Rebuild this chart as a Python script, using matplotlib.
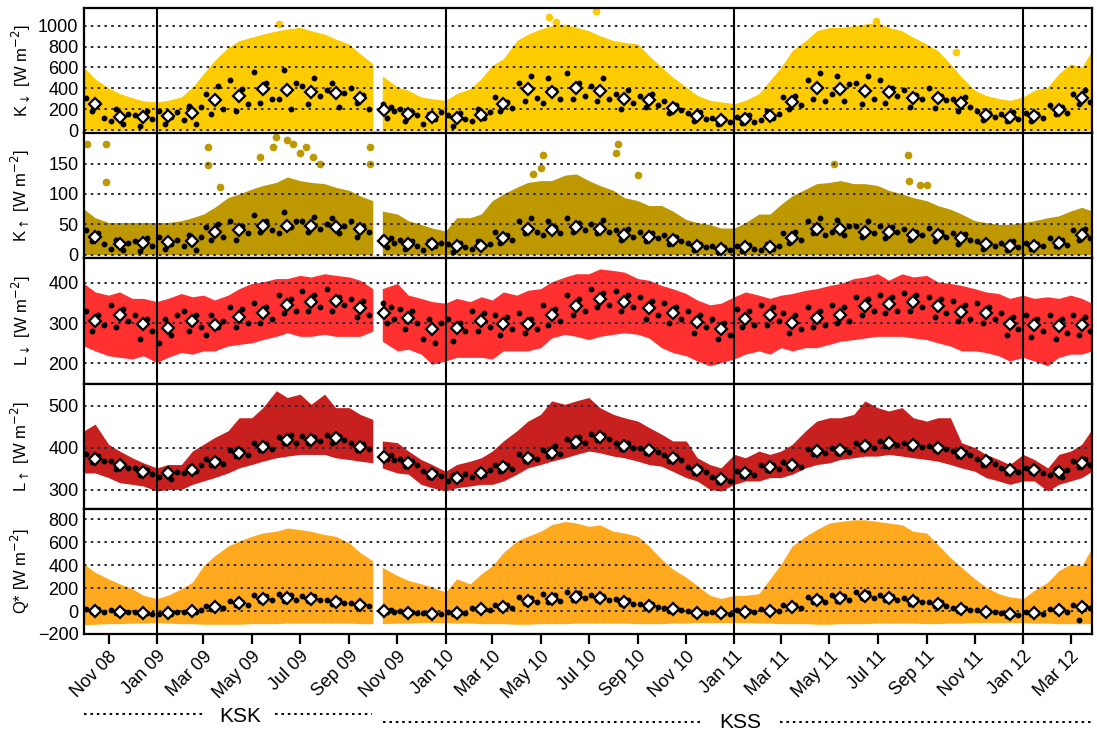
import numpy as np
import pandas as pd
import matplotlib
matplotlib.use('Agg')
import matplotlib.pyplot as plt
import matplotlib.dates as mdates
from matplotlib.lines import Line2D

plt.rcParams['font.family'] = ['Liberation Sans', 'DejaVu Sans']
plt.rcParams['mathtext.fontset'] = 'dejavusans'

# ---------------- time grids ----------------
KSK_START, KSK_END = '2008-10-01', '2009-10-01'
KSS_START, KSS_END = '2009-10-13', '2012-03-28'
KSK_GRID = list(pd.date_range(KSK_START, KSK_END, freq='SMS'))
KSS_GRID = [pd.Timestamp(KSS_START)] + list(pd.date_range('2009-11-01', '2012-03-15', freq='SMS')) + [pd.Timestamp(KSS_END)]
KSK_MONTHS = pd.date_range('2008-10-01', periods=12, freq='MS')
KSS_MONTHS = pd.date_range('2009-10-01', periods=30, freq='MS')
DOT_DAYS = [4, 11, 19, 26]
KSS_FIRST_DAYS = [14, 19, 24, 28]
YEAR_LINES = ['2009-01-01', '2010-01-01', '2011-01-01', '2012-01-01']

# ---------------- K down ----------------
KDN_UP_KSK = [600, 490, 405, 350, 310, 280, 270, 285, 318, 410, 540, 667, 790, 857, 890, 920, 950, 968, 985, 952, 920, 873, 825, 730, 635]
KDN_UP_KSS = [520, 413, 380, 318, 300,
              285, 350, 397, 492, 620, 683, 857, 920, 968, 1000, 1016, 985, 952, 905, 857, 841, 825, 714, 603, 508, 413, 333, 285, 270,
              254, 285, 349, 476, 603, 762, 857, 952, 984, 984, 1000, 1016, 1032, 984, 952, 889, 825, 762, 635, 508, 381, 333, 302, 285,
              318, 381, 413, 540, 635, 603, 762]
KDN_MEAN_KSK = [248, 124, 124, 133, 162, 286, 324, 390, 381, 362, 352, 308]
KDN_MEAN_KSS = [190, 152, 124, 117, 143, 248, 390, 362, 400, 375, 298, 286, 216, 133, 95,
                105, 133, 270, 403, 397, 375, 365, 311, 311, 257, 146, 130, 133, 190, 311]
KDN_DAY_KSK = [310, 180, 260, 120, 90, 200, 60, 150, 140, 40, 180, 110, 180, 60, 130, 170,
               100, 230, 60, 220, 350, 150, 420, 200, 480, 180, 390, 250, 560, 260, 450, 300,
               300, 580, 200, 450, 420, 250, 500, 330, 380, 450, 220, 360, 400, 260, 340, 200]
KDN_DAY_KSS = [250, 120, 220, 180, 200, 90, 170, 140, 60, 150, 110, 170,
               140, 40, 160, 110, 90, 200, 120, 170, 320, 180, 270, 210, 450, 280, 520, 310,
               260, 500, 380, 300, 550, 300, 450, 330, 420, 280, 500, 300, 350, 200, 380, 260,
               330, 220, 350, 240, 280, 160, 240, 190, 160, 90, 170, 110, 120, 60, 110, 80,
               130, 70, 140, 80, 100, 180, 120, 150, 320, 200, 330, 240, 480, 300, 550, 280,
               350, 520, 280, 440, 450, 250, 520, 300, 480, 260, 400, 330, 380, 220, 340, 300,
               400, 210, 330, 290, 300, 180, 320, 220, 180, 100, 160, 130, 150, 90, 170, 110,
               160, 90, 150, 120, 240, 150, 220, 160, 350, 250, 380, 270]
KDN_OUT_DATES = ['2009-06-05', '2010-05-12', '2010-05-20', '2010-07-10', '2011-06-29', '2011-10-08']
KDN_OUT_VALS = [1016, 1080, 1032, 1143, 1048, 746]

# ---------------- K up ----------------
KUP_UP_KSK = [75, 61, 53, 53, 53, 53, 53, 53, 56, 61, 67, 78, 94, 100, 108, 114, 119, 128, 122, 119, 117, 111, 106, 97, 89]
KUP_UP_KSS = [72, 67, 56, 50, 44,
              39, 61, 61, 67, 89, 100, 111, 119, 122, 122, 131, 133, 122, 114, 106, 94, 89, 81, 81, 72, 58, 53, 50, 44,
              44, 53, 67, 67, 83, 97, 108, 117, 119, 122, 117, 117, 114, 106, 100, 94, 89, 81, 75, 67, 56, 53, 50, 50,
              53, 56, 61, 64, 72, 78, 72]
KUP_MEAN_KSK = [30, 17, 19, 21, 23, 37, 40, 48, 48, 48, 46, 42]
KUP_MEAN_KSS = [23, 18, 17, 15, 15, 28, 42, 40, 45, 42, 32, 30, 25, 15, 10,
                12, 12, 28, 42, 42, 38, 37, 32, 32, 27, 17, 15, 15, 20, 32]
KUP_DAY_KSK = [40, 22, 35, 18, 10, 25, 8, 20, 22, 6, 28, 15, 30, 10, 18, 25,
               15, 32, 8, 30, 45, 25, 50, 30, 55, 25, 48, 35, 65, 38, 55, 40,
               35, 70, 45, 55, 55, 38, 62, 42, 50, 60, 35, 48, 55, 30, 48, 38]
KUP_DAY_KSS = [30, 12, 28, 20, 25, 10, 22, 15, 8, 22, 14, 20,
               18, 5, 20, 12, 10, 22, 14, 18, 38, 20, 33, 25, 55, 35, 60, 38,
               32, 55, 45, 35, 60, 38, 52, 40, 50, 35, 58, 38, 40, 25, 42, 30,
               38, 22, 36, 28, 32, 18, 30, 22, 20, 8, 18, 12, 14, 5, 12, 8,
               15, 6, 16, 9, 8, 18, 10, 14, 35, 20, 38, 25, 55, 35, 60, 32,
               38, 58, 32, 48, 48, 30, 55, 35, 48, 28, 45, 38, 42, 25, 38, 32,
               44, 22, 38, 30, 35, 18, 34, 24, 22, 10, 20, 14, 20, 8, 22, 12,
               20, 9, 18, 14, 28, 14, 25, 16, 40, 25, 42, 28]
KUP_OUT_DATES = ['2008-10-05', '2008-10-29', '2008-10-29', '2009-03-07', '2009-03-07', '2009-03-22',
                 '2009-05-11', '2009-05-28', '2009-06-01', '2009-06-14', '2009-06-22', '2009-07-01',
                 '2009-07-09', '2009-07-17', '2009-07-26', '2009-09-27', '2009-09-27',
                 '2010-04-22', '2010-05-02', '2010-05-04', '2010-08-04', '2010-08-07', '2010-09-01',
                 '2011-05-07', '2011-08-08', '2011-08-10', '2011-08-23', '2011-09-02']
KUP_OUT_VALS = [183, 183, 119, 178, 147, 111, 161, 178, 194, 189, 183, 167, 178, 161, 150, 178, 150,
                133, 142, 164, 168, 183, 131, 150, 164, 122, 114, 114]

# ---------------- L down ----------------
LDN_UP_KSK = [398, 377, 369, 377, 361, 361, 353, 361, 373, 365, 369, 357, 369, 385, 398, 402, 410, 410, 418, 414, 422, 418, 414, 406, 385]
LDN_LO_KSK = [243, 231, 219, 215, 211, 219, 202, 215, 227, 223, 231, 231, 243, 247, 251, 259, 267, 276, 267, 267, 272, 267, 267, 267, 280]
LDN_UP_KSS = [385, 398, 369, 361, 353,
              349, 361, 353, 365, 357, 377, 369, 381, 385, 402, 414, 422, 422, 434, 430, 426, 410, 406, 393, 385, 373, 357, 345, 349,
              365, 377, 369, 361, 369, 373, 381, 385, 393, 398, 410, 414, 422, 406, 422, 414, 418, 402, 398, 393, 385, 377, 373, 361,
              369, 361, 365, 361, 369, 361, 349]
LDN_LO_KSS = [255, 231, 235, 223, 198,
              206, 215, 215, 215, 211, 231, 231, 231, 239, 263, 272, 267, 259, 267, 272, 276, 272, 263, 239, 227, 219, 206, 194, 202,
              211, 223, 231, 223, 239, 231, 239, 239, 247, 255, 259, 263, 267, 267, 267, 263, 259, 251, 243, 231, 231, 227, 219, 206,
              215, 206, 194, 215, 223, 223, 231]
LDN_MEAN_KSK = [306, 319, 298, 288, 304, 294, 314, 324, 345, 353, 354, 337]
LDN_MEAN_KSS = [324, 312, 286, 288, 304, 298, 298, 319, 343, 359, 353, 337, 324, 302, 285,
                311, 320, 300, 312, 319, 342, 346, 353, 341, 328, 324, 298, 294, 292, 294]
LDN_DAY_KSK = [330, 280, 320, 295, 345, 290, 335, 305, 320, 260, 310, 280, 250, 310, 270, 320,
               330, 280, 320, 290, 270, 320, 290, 305, 340, 290, 335, 300, 350, 300, 340, 310,
               370, 325, 360, 330, 380, 330, 370, 340, 385, 330, 365, 345, 360, 315, 355, 320]
LDN_DAY_KSS = [350, 300, 340, 310, 335, 285, 330, 300, 260, 310, 250, 300,
               310, 255, 300, 280, 330, 280, 325, 290, 320, 270, 315, 285, 325, 275, 310, 285,
               345, 295, 335, 305, 370, 320, 360, 330, 385, 340, 375, 345, 380, 330, 370, 340,
               365, 310, 355, 320, 350, 300, 340, 310, 330, 275, 320, 290, 310, 260, 300, 270,
               335, 290, 330, 295, 345, 295, 340, 305, 325, 275, 320, 285, 340, 290, 330, 295,
               345, 300, 340, 305, 365, 320, 360, 330, 370, 325, 365, 330, 375, 330, 370, 340,
               365, 315, 360, 325, 355, 305, 345, 310, 350, 300, 340, 310, 325, 270, 315, 285,
               320, 265, 310, 280, 320, 260, 310, 275, 320, 270, 315, 280]

# ---------------- L up ----------------
LUP_UP_KSK = [440, 456, 408, 392, 376, 364, 352, 360, 360, 392, 408, 424, 440, 471, 471, 495, 535, 519, 527, 503, 527, 495, 495, 479, 467]
LUP_LO_KSK = [340, 340, 329, 317, 313, 309, 297, 301, 301, 313, 321, 329, 340, 352, 360, 368, 376, 380, 384, 384, 384, 376, 372, 368, 364]
LUP_UP_KSS = [416, 412, 392, 372, 360,
              344, 360, 368, 376, 392, 416, 440, 463, 479, 511, 503, 511, 519, 495, 479, 471, 463, 448, 432, 416, 416, 376, 360, 352,
              384, 376, 392, 384, 392, 408, 440, 463, 471, 471, 479, 511, 495, 487, 495, 471, 463, 471, 471, 412, 400, 384, 372, 360,
              384, 372, 352, 384, 392, 408, 444]
LUP_LO_KSS = [352, 340, 337, 313, 305,
              297, 305, 309, 313, 313, 321, 337, 352, 360, 368, 376, 384, 392, 388, 380, 376, 368, 360, 356, 344, 329, 321, 301, 297,
              313, 321, 321, 329, 329, 337, 352, 360, 364, 372, 376, 380, 380, 384, 380, 376, 372, 368, 360, 352, 344, 329, 321, 313,
              321, 321, 297, 313, 321, 329, 344]
LUP_MEAN_KSK = [374, 358, 343, 339, 348, 366, 387, 402, 418, 418, 422, 402]
LUP_MEAN_KSS = [378, 364, 338, 329, 339, 354, 376, 387, 413, 426, 404, 394, 375, 348, 325,
                340, 354, 359, 392, 394, 404, 410, 406, 400, 387, 368, 348, 348, 343, 364]
LUP_DAY_KSK = [385, 365, 380, 368, 368, 350, 362, 352, 352, 335, 348, 338, 330, 345, 325, 342,
               340, 355, 345, 358, 372, 358, 370, 362, 395, 380, 392, 382, 410, 395, 408, 398,
               425, 410, 430, 412, 428, 410, 425, 415, 430, 412, 428, 418, 410, 395, 408, 398]
LUP_DAY_KSS = [385, 372, 382, 370, 372, 356, 368, 358, 345, 330, 342, 332,
               320, 335, 325, 338, 330, 345, 335, 348, 360, 345, 358, 350, 385, 368, 380, 372,
               395, 380, 405, 385, 420, 405, 425, 410, 432, 418, 430, 420, 412, 398, 410, 400,
               400, 388, 398, 390, 382, 368, 380, 370, 355, 340, 352, 342, 330, 318, 328, 320,
               345, 332, 342, 335, 360, 348, 358, 350, 365, 352, 362, 355, 398, 385, 395, 388,
               400, 388, 398, 390, 410, 398, 408, 400, 415, 404, 412, 406, 412, 400, 410, 402,
               405, 394, 402, 396, 392, 380, 390, 382, 374, 360, 372, 362, 352, 340, 350, 342,
               352, 342, 350, 340, 335, 350, 330, 348, 368, 355, 372, 360]

# ---------------- Q* ----------------
QS_UP_KSK = [409, 337, 280, 237, 194, 137, 109, 137, 194, 251, 394, 480, 566, 609, 651, 680, 694, 723, 709, 694, 666, 651, 594, 509, 437]
QS_LO_KSK = [-120, -115, -110, -110, -105, -105, -100, -105, -110, -110, -115, -115, -115, -115, -110, -110, -110, -105, -105, -105, -105, -105, -105, -110, -110]
QS_UP_KSS = [380, 309, 266, 237, 209,
             166, 280, 237, 323, 394, 509, 609, 651, 694, 751, 780, 766, 737, 751, 694, 680, 651, 566, 451, 366, 294, 223, 137, 109,
             137, 137, 151, 280, 409, 566, 651, 709, 766, 780, 794, 794, 780, 766, 751, 694, 680, 580, 466, 380, 280, 209, 151, 123,
             109, 180, 251, 351, 409, 394, 551]
QS_LO_KSS = [-110, -105, -105, -100, -100,
             -100, -105, -105, -110, -110, -110, -115, -115, -110, -110, -110, -105, -105, -105, -105, -105, -110, -110, -110, -105, -105, -100, -100, -100,
             -100, -100, -105, -105, -110, -110, -110, -115, -115, -110, -110, -110, -105, -105, -105, -105, -110, -110, -105, -105, -100, -100, -100, -100,
             -100, -105, -105, -110, -110, -110, -110]
QS_MEAN_KSK = [0, -6, -20, -20, 0, 31, 66, 109, 114, 109, 80, 51]
QS_MEAN_KSS = [0, -14, -26, -14, 14, 37, 89, 109, 123, 114, 80, 46, 14, -14, -20,
               -6, 3, 37, 94, 114, 129, 114, 86, 57, 14, -6, -29, -20, 9, 37]
QS_DAY_KSK = [20, -10, 15, -5, 5, -20, 0, -10, -10, -30, -15, -25, -30, -15, -25, -10,
              -5, 10, -10, 5, 40, 20, 45, 25, 85, 50, 80, 55, 140, 90, 130, 95,
              150, 90, 140, 100, 135, 85, 130, 95, 100, 60, 95, 70, 70, 35, 65, 40]
QS_DAY_KSS = [15, -10, 10, -5, 0, -25, -5, -20, -15, -35, -20, -30,
              -5, -25, -10, -20, 25, 5, 20, 10, 55, 25, 50, 30, 120, 70, 110, 75,
              150, 80, 140, 90, 170, 100, 160, 110, 140, 95, 135, 100, 105, 60, 100, 65,
              65, 30, 60, 35, 30, 0, 25, 5, 0, -25, -5, -20, -10, -30, -15, -25,
              5, -15, 0, -10, 15, -5, 10, 0, 55, 25, 50, 30, 120, 75, 115, 80,
              140, 90, 135, 100, 170, 110, 160, 115, 140, 95, 135, 100, 110, 65, 105, 75,
              80, 40, 75, 45, 30, 0, 25, 5, 5, -15, 0, -10, -20, -40, -25, -35,
              -10, -30, -15, -25, 20, 0, 15, -5, 50, -80, 45, 25]

YLABELS = [r'K$_{\downarrow}$ [W m$^{-2}$]', r'K$_{\uparrow}$ [W m$^{-2}$]',
           r'L$_{\downarrow}$ [W m$^{-2}$]', r'L$_{\uparrow}$ [W m$^{-2}$]', r'Q* [W m$^{-2}$]']
YTICKS = [[0, 200, 400, 600, 800, 1000], [0, 50, 100, 150], [200, 300, 400], [300, 400, 500],
          [-200, 0, 200, 400, 600, 800]]
YLIMS = [(-30, 1170), (-6, 200), (150, 460), (255, 552), (-200, 890)]
COLORS = ['#FCCB00', '#BE9800', '#FF3030', '#C8201E', '#FFAA1E']


def dot_dates(months, first_days=None):
    out = []
    for i, m in enumerate(months):
        days = first_days if (i == 0 and first_days is not None) else DOT_DAYS
        out += [m + pd.Timedelta(days=d - 1) for d in days]
    return out


KSK_DOTX = dot_dates(KSK_MONTHS)
KSS_DOTX = dot_dates(KSS_MONTHS, KSS_FIRST_DAYS)
KSK_MX = KSK_MONTHS + pd.Timedelta(days=14)
KSS_MX = KSS_MONTHS + pd.Timedelta(days=14)

panels = [
    dict(up=(KDN_UP_KSK, KDN_UP_KSS), lo=(0, 0), day=(KDN_DAY_KSK, KDN_DAY_KSS),
         mean=(KDN_MEAN_KSK, KDN_MEAN_KSS), out=(KDN_OUT_DATES, KDN_OUT_VALS)),
    dict(up=(KUP_UP_KSK, KUP_UP_KSS), lo=(0, 0), day=(KUP_DAY_KSK, KUP_DAY_KSS),
         mean=(KUP_MEAN_KSK, KUP_MEAN_KSS), out=(KUP_OUT_DATES, KUP_OUT_VALS)),
    dict(up=(LDN_UP_KSK, LDN_UP_KSS), lo=(LDN_LO_KSK, LDN_LO_KSS), day=(LDN_DAY_KSK, LDN_DAY_KSS),
         mean=(LDN_MEAN_KSK, LDN_MEAN_KSS), out=None),
    dict(up=(LUP_UP_KSK, LUP_UP_KSS), lo=(LUP_LO_KSK, LUP_LO_KSS), day=(LUP_DAY_KSK, LUP_DAY_KSS),
         mean=(LUP_MEAN_KSK, LUP_MEAN_KSS), out=None),
    dict(up=(QS_UP_KSK, QS_UP_KSS), lo=(QS_LO_KSK, QS_LO_KSS), day=(QS_DAY_KSK, QS_DAY_KSS),
         mean=(QS_MEAN_KSK, QS_MEAN_KSS), out=None),
]

W, H = 1097, 735
fig = plt.figure(figsize=(W / 100, H / 100), dpi=100)
gs = fig.add_gridspec(5, 1, left=84 / W, right=1092 / W, top=1 - 8 / H, bottom=1 - 634 / H, hspace=0)
axes = [fig.add_subplot(gs[i]) for i in range(5)]
for i, ax in enumerate(axes):
    p = panels[i]
    c = COLORS[i]
    ax.fill_between(KSK_GRID, p['lo'][0], p['up'][0], color=c, lw=0, zorder=1)
    ax.fill_between(KSS_GRID, p['lo'][1], p['up'][1], color=c, lw=0, zorder=1)
    if p['out'] is not None:
        ax.plot(pd.to_datetime(p['out'][0]), p['out'][1], 'o', ms=4.5, color=c, ls='none', zorder=1.2)
    ax.plot(KSK_DOTX, p['day'][0], 'o', ms=3.2, color='black', ls='none', zorder=3)
    ax.plot(KSS_DOTX, p['day'][1], 'o', ms=3.2, color='black', ls='none', zorder=3)
    ax.plot(KSK_MX, p['mean'][0], 'D', ms=6, mfc='white', mec='black', mew=1.6, ls='none', zorder=4)
    ax.plot(KSS_MX, p['mean'][1], 'D', ms=6, mfc='white', mec='black', mew=1.6, ls='none', zorder=4)
    for yl in YEAR_LINES:
        ax.axvline(pd.Timestamp(yl), color='black', lw=1.5, zorder=5)
    ax.set_xlim(pd.Timestamp('2008-10-01'), pd.Timestamp('2012-03-28'))
    ax.set_ylim(*YLIMS[i])
    ax.set_yticks(YTICKS[i])
    ax.yaxis.grid(True, ls=(0, (1.3, 2.2)), color='#2a2a3a', lw=1.4)
    ax.tick_params(axis='y', length=0, pad=4, labelsize=13)
    ax.set_ylabel(YLABELS[i], fontsize=12, labelpad=4)
    for s in ax.spines.values():
        s.set_linewidth(1.6)
    ax.xaxis.set_major_locator(mdates.MonthLocator(bymonth=[1, 3, 5, 7, 9, 11]))
    ax.xaxis.set_major_formatter(mdates.DateFormatter('%b %y'))
    if i < 4:
        ax.tick_params(axis='x', length=0, labelbottom=False)
    else:
        ax.tick_params(axis='x', direction='out', length=7, width=1.6, labelsize=13, pad=3)
        for lab in ax.get_xticklabels():
            lab.set_rotation(45)
            lab.set_ha('right')
            lab.set_va('top')
            lab.set_rotation_mode('anchor')

fig.align_ylabels(axes)

# site annotations
fig.text(240 / W, 1 - 717 / H, 'KSK', ha='center', va='center', fontsize=15)
fig.text(740 / W, 1 - 722 / H, 'KSS', ha='center', va='center', fontsize=15)
for (x0, x1, y) in [(84, 205, 714), (275, 372, 714), (383, 700, 722), (780, 1092, 722)]:
    fig.add_artist(Line2D([x0 / W, x1 / W], [1 - y / H, 1 - y / H], transform=fig.transFigure,
                          color='black', lw=1.4, ls=(0, (1.3, 2.0))))

fig.savefig('out.png', dpi=100)
